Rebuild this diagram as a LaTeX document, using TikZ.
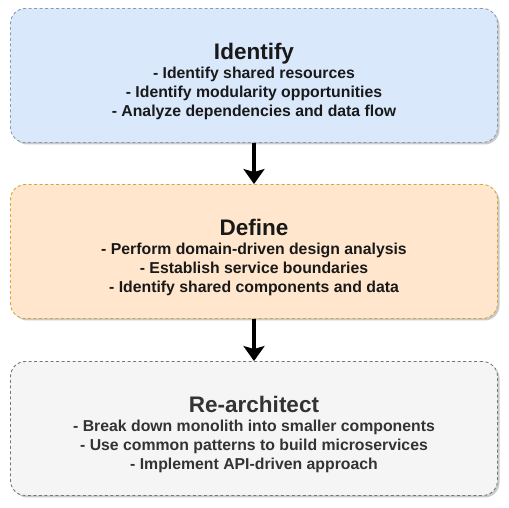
\documentclass[tikz,border=0pt]{standalone}
\usepackage{fontspec}
\setmainfont{Liberation Sans}
\usetikzlibrary{arrows.meta,shadows}
\newcommand{\boxwidth}{487}
\newcommand{\boxheight}{134}
\definecolor{blueFill}{HTML}{DAE8FC}
\definecolor{blueLine}{HTML}{8A9BB0}
\definecolor{orangeFill}{HTML}{FFE6CC}
\definecolor{orangeLine}{HTML}{D6A63A}
\definecolor{greyFill}{HTML}{F5F5F5}
\definecolor{greyLine}{HTML}{777777}
\definecolor{greyText}{HTML}{333333}
\tikzset{
	stage/.style={rectangle, rounded corners=15pt, line width=0.9pt,
		dash pattern=on 3pt off 2.5pt,
		minimum width=\boxwidth pt, minimum height=\boxheight pt,
		drop shadow={shadow xshift=2pt, shadow yshift=-2pt, opacity=0.35, fill=black!60}},
	stagetext/.style={align=center, font=\bfseries\fontsize{15.8}{19}\selectfont},
	flow/.style={line width=4.5pt, -{Stealth[length=15pt, width=21pt, inset=3pt]}}
}

\begin{document}
\begin{tikzpicture}[x=1pt,y=1pt]
	\useasboundingbox (0,0) rectangle (509,508);
	\fill[white] (0,0) rectangle (509,508);

	\node[stage, draw=blueLine, fill=blueFill] (identify) at (254,432.5) {};
	\node[stage, draw=orangeLine, fill=orangeFill] (define) at (254,256.5) {};
	\node[stage, draw=greyLine, fill=greyFill] (rearch) at (254,79.5) {};

	\node[stagetext, text=black!90] (identifytxt) at ([yshift=-5.5pt]identify.center)
		{{\fontsize{22.5}{25}\selectfont Identify}\\
		 - Identify shared resources\\
		 - Identify modularity opportunities\\
		 - Analyze dependencies and data flow};
	\node[stagetext, text=black!90] (definetxt) at ([yshift=-5.5pt]define.center)
		{{\fontsize{22.5}{25}\selectfont Define}\\
		 - Perform domain-driven design analysis\\
		 - Establish service boundaries\\
		 - Identify shared components and data};
	\node[stagetext, text=greyText] (rearchtxt) at ([yshift=-5.5pt]rearch.center)
		{{\fontsize{22.5}{25}\selectfont Re-architect}\\
		 - Break down monolith into smaller components\\
		 - Use common patterns to build microservices\\
		 - Implement API-driven approach};

	\draw[flow] (identify.south) -- (define.north);
	\draw[flow] (define.south) -- (rearch.north);
\end{tikzpicture}
\end{document}
